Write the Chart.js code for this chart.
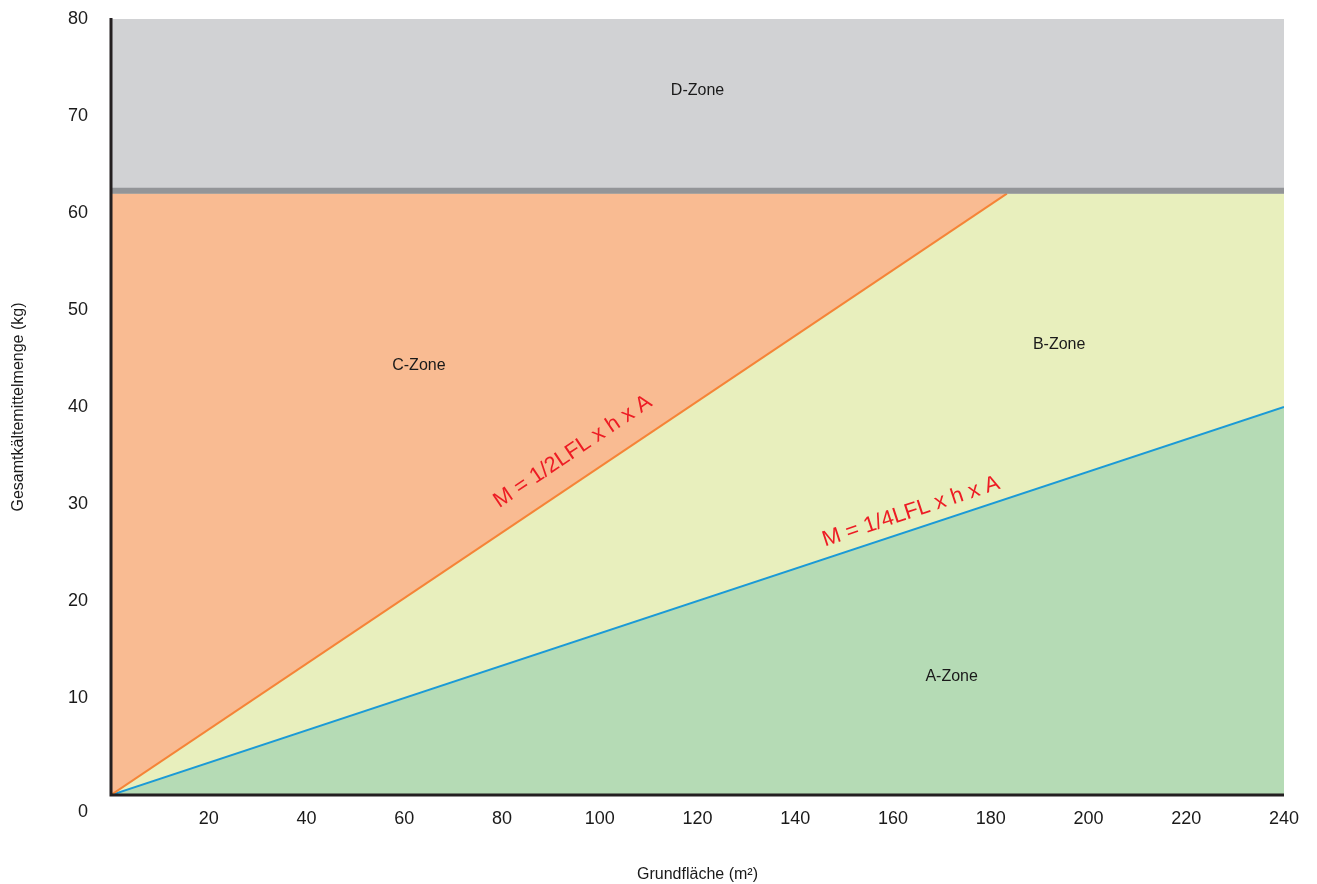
<!DOCTYPE html>
<html>
<head>
<meta charset="utf-8">
<script src="https://cdn.jsdelivr.net/npm/chart.js@4"></script>
<style>
  html, body { margin: 0; padding: 0; background: #ffffff; }
  #wrap { width: 1317px; height: 884px; }
</style>
</head>
<body>
<div id="wrap"><canvas id="c" width="1317" height="884"></canvas></div>
<script>
// ---- data ----
const areaX = [0, 240];
const dZoneTop = [80, 80];
const cZoneLimit = [62, 62];
const dZoneBorder = [62.3, 62.3];
const halfLfiX = [0, 183.3];
const halfLfiY = [0, 62];
const quarterLfiX = [0, 240];
const quarterLfiY = [0, 40];
const xTickValues = [20, 40, 60, 80, 100, 120, 140, 160, 180, 200, 220, 240];
const yTickValues = [0, 10, 20, 30, 40, 50, 60, 70, 80];
const zoneNames = ['D-Zone', 'C-Zone', 'B-Zone', 'A-Zone'];
const zoneAnchorX = [120, 63, 194, 172];
const zoneAnchorY = [72.6, 44.3, 46.4, 12.2];
const formulaTexts = ['M = 1/2LFL x h x A', 'M = 1/4LFL x h x A'];
const formulaAnchorX = [94.5, 163.7];
const formulaAnchorY = [35.4, 29.2];
const xTitle = 'Grundfläche (m²)';
const yTitle = 'Gesamtkältemittelmenge (kg)';

const pts = (xs, ys) => xs.map((x, i) => ({ x: x, y: ys[i] }));

const FONT = "'Liberation Sans', 'DejaVu Sans', sans-serif";

const annotations = {
  id: 'annotations',
  afterDraw(chart) {
    const ctx = chart.ctx;
    const xs = chart.scales.x, ys = chart.scales.y;
    const area = chart.chartArea;
    ctx.save();
    // axis lines
    ctx.strokeStyle = '#231f20';
    ctx.lineWidth = 3;
    ctx.beginPath();
    ctx.moveTo(area.left, area.top - 1);
    ctx.lineTo(area.left, area.bottom);
    ctx.lineTo(area.right, area.bottom);
    ctx.stroke();
    // zone names
    ctx.fillStyle = '#1a1a1a';
    ctx.font = '16px ' + FONT;
    ctx.textAlign = 'center';
    ctx.textBaseline = 'middle';
    zoneNames.forEach((n, i) => {
      ctx.fillText(n, xs.getPixelForValue(zoneAnchorX[i]), ys.getPixelForValue(zoneAnchorY[i]));
    });
    // formula labels, rotated along their lines
    const lines = [[halfLfiX, halfLfiY], [quarterLfiX, quarterLfiY]];
    ctx.fillStyle = '#ed1c24';
    ctx.font = '22px ' + FONT;
    formulaTexts.forEach((t, i) => {
      const [lx, ly] = lines[i];
      const dx = xs.getPixelForValue(lx[1]) - xs.getPixelForValue(lx[0]);
      const dy = ys.getPixelForValue(ly[1]) - ys.getPixelForValue(ly[0]);
      const ang = Math.atan2(dy, dx);
      ctx.save();
      ctx.translate(xs.getPixelForValue(formulaAnchorX[i]), ys.getPixelForValue(formulaAnchorY[i]));
      ctx.rotate(ang);
      ctx.fillText(t, 0, 0);
      ctx.restore();
    });
    // shared origin label
    ctx.fillStyle = '#1a1a1a';
    ctx.font = '18px ' + FONT;
    ctx.fillText(String(yTickValues[0]), xs.getPixelForValue(0) - 28, ys.getPixelForValue(0) + 17);
    ctx.restore();
  }
};

new Chart(document.getElementById('c'), {
  type: 'line',
  data: {
    datasets: [
      { label: 'D-Zone', data: pts(areaX, dZoneTop), backgroundColor: '#d1d2d4', borderWidth: 0, pointRadius: 0, fill: 'origin', order: 6 },
      { label: 'B-Zone', data: pts(areaX, cZoneLimit), backgroundColor: '#e8efbd', borderWidth: 0, pointRadius: 0, fill: 'origin', order: 5 },
      { label: 'A-Zone', data: pts(quarterLfiX, quarterLfiY), backgroundColor: '#b5dbb5', borderColor: '#1b9ad6', borderWidth: 2, pointRadius: 0, fill: 'origin', order: 4 },
      { label: 'C-Zone', data: pts(halfLfiX, halfLfiY), borderColor: '#f58437', borderWidth: 2, pointRadius: 0,
        fill: { target: { value: 62 }, above: '#f9bb92', below: '#f9bb92' }, order: 3 },
      { label: 'D-Grenze', data: pts(areaX, dZoneBorder), borderColor: '#939598', borderWidth: 6, pointRadius: 0, fill: false, order: 1 }
    ]
  },
  options: {
    responsive: false,
    animation: false,
    events: [],
    layout: { padding: { left: 0, right: 33, top: 19, bottom: 0 } },
    plugins: { legend: { display: false }, tooltip: { enabled: false } },
    scales: {
      x: {
        type: 'linear', min: 0, max: 240,
        afterBuildTicks: (s) => { s.ticks = xTickValues.map(v => ({ value: v })); },
        afterFit: (s) => { s.height = 89; s.paddingLeft = 0; s.paddingRight = 0; },
        grid: { display: false, drawTicks: false },
        border: { display: false },
        ticks: { color: '#1a1a1a', font: { size: 18, family: FONT }, padding: 13, maxRotation: 0, autoSkip: false },
        title: { display: true, text: xTitle, color: '#1a1a1a', font: { size: 16, family: FONT }, padding: { top: 0, bottom: 0 } }
      },
      y: {
        type: 'linear', min: 0, max: 80,
        afterBuildTicks: (s) => { s.ticks = yTickValues.map(v => ({ value: v })); },
        afterFit: (s) => { s.width = 111; s.paddingTop = 0; s.paddingBottom = 0; },
        grid: { display: false, drawTicks: false },
        border: { display: false },
        ticks: { color: '#1a1a1a', font: { size: 18, family: FONT }, padding: 23, autoSkip: false,
          callback: (v) => (v === 0 ? '' : String(v)) },
        title: { display: true, text: yTitle, color: '#1a1a1a', font: { size: 16, family: FONT }, padding: { top: 9, bottom: 0 } }
      }
    }
  },
  plugins: [annotations]
});
</script>
</body>
</html>
